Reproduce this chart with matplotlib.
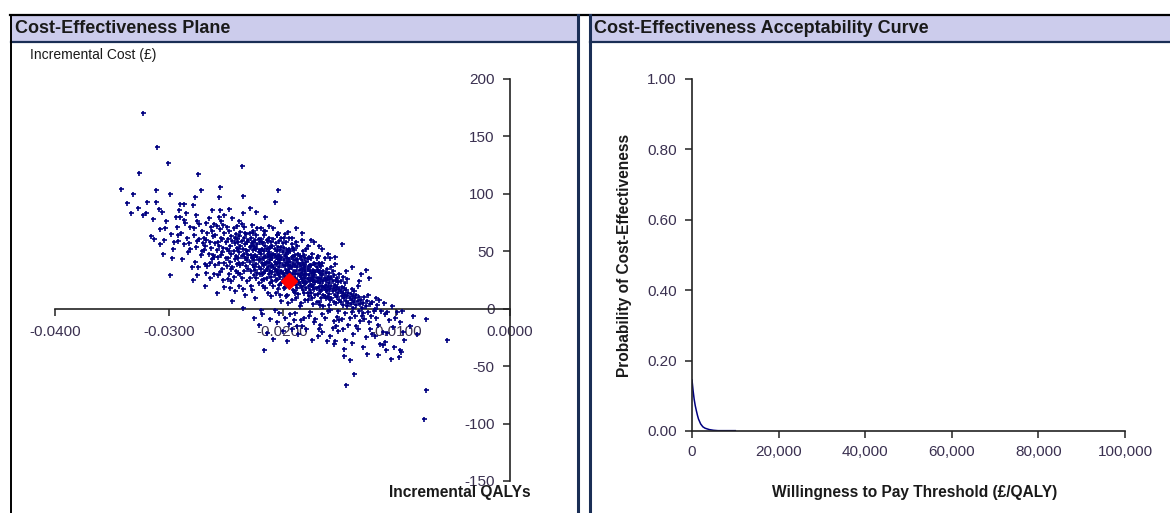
import numpy as np
import matplotlib
matplotlib.use("Agg")
import matplotlib.pyplot as plt
from matplotlib.lines import Line2D
from matplotlib.patches import Rectangle
from matplotlib.ticker import FuncFormatter

plt.rcParams['font.family'] = ['Liberation Sans', 'DejaVu Sans']
plt.rcParams['axes.unicode_minus'] = False

# PSA draws (QALYs in units of 1e-4)
incr_qaly_e4 = [
    -342, -337, -333, -331,
    -326, -323, -323, -327, -320,
    -319, -316, -313, -311, -311, -310, -314,
    -309, -308, -308, -306, -304, -303, -301, -305, -302,
    -299, -299, -298, -294, -292, -292, -291, -290, -290, -296, -293, -297, -295,
    -287, -287, -287, -286, -281, -280, -289, -284, -283, -288, -282, -285, -281,
    -279, -279, -277, -275, -275, -275, -274, -273, -272, -272,
    -278, -276, -271, -277, -273, -270, -278, -274, -276, -271,
    -268, -267, -267, -264, -262, -261, -260, -260, -269, -268, -266, -265, -264,
    -263, -262, -261, -269, -266, -263, -265, -267, -262, -260, -268, -264,
    -256, -256, -255, -255, -252, -251, -251, -259, -258, -257, -256, -255, -254,
    -253, -253, -252, -251, -250, -259, -258, -257, -256, -254, -253, -252, -259,
    -255, -254, -250, -257, -251, -258,
    -247, -244, -240, -249, -249, -248, -248, -247, -247, -246, -246, -245, -245,
    -245, -244, -244, -243, -243, -243, -242, -242, -242, -241, -241, -241, -240,
    -240, -249, -246, -244, -242, -248, -247, -245, -240,
    -238, -236, -235, -235, -235, -239, -239, -239, -238, -238, -238, -237, -237,
    -237, -236, -236, -236, -235, -235, -234, -234, -234, -234, -233, -233, -233,
    -232, -232, -232, -231, -231, -231, -230, -230, -230, -239, -237, -236, -233,
    -231, -238, -235, -232,
    -223, -229, -229, -229, -228, -228, -228, -227, -227, -227, -226, -226, -226,
    -225, -225, -225, -224, -224, -224, -224, -223, -223, -223, -222, -222, -222,
    -221, -221, -221, -220, -220, -220, -229, -228, -227, -226, -225, -223, -222,
    -221, -220, -226, -224, -228, -221,
    -216, -219, -219, -219, -219, -218, -218, -218, -217, -217, -217, -216, -216,
    -216, -215, -215, -215, -215, -214, -214, -214, -213, -213, -213, -212, -212,
    -212, -211, -211, -211, -210, -210, -210, -210, -219, -218, -217, -216, -215,
    -214, -213, -213, -212, -211, -210, -218, -216, -214, -212, -211, -217, -215,
    -207, -207, -204, -209, -209, -209, -208, -208, -208, -208, -207, -207, -207,
    -206, -206, -206, -206, -205, -205, -205, -205, -204, -204, -204, -203, -203,
    -203, -203, -202, -202, -202, -201, -201, -201, -201, -200, -200, -200, -209,
    -208, -207, -206, -205, -204, -204, -203, -202, -202, -201, -200, -200, -209,
    -207, -205, -203, -201, -206,
    -193, -190, -192, -199, -199, -199, -198, -198, -198, -197, -197, -197, -196,
    -196, -196, -195, -195, -195, -194, -194, -194, -194, -193, -193, -193, -192,
    -192, -192, -191, -191, -191, -190, -190, -190, -199, -198, -197, -196, -196,
    -195, -195, -194, -193, -192, -192, -191, -191, -190, -190, -199, -197, -195,
    -193, -198, -196, -194, -191, -197,
    -187, -183, -181, -189, -189, -189, -188, -188, -188, -187, -187, -187, -186,
    -186, -186, -185, -185, -185, -184, -184, -184, -183, -183, -183, -182, -182,
    -182, -181, -181, -181, -180, -180, -180, -189, -188, -187, -186, -185, -185,
    -184, -183, -183, -182, -181, -180, -180, -189, -187, -186, -184, -182, -188,
    -185, -183, -181, -180,
    -179, -179, -179, -178, -178, -178, -177, -177, -177, -176, -176, -176, -175,
    -175, -175, -174, -174, -174, -173, -173, -173, -172, -172, -172, -171, -171,
    -171, -170, -170, -170, -179, -178, -177, -176, -175, -174, -173, -172, -171,
    -170, -179, -177, -175, -173, -171, -178, -176, -174, -172, -170,
    -169, -168, -167, -161, -169, -169, -169, -168, -168, -168, -167, -167, -167,
    -166, -166, -166, -165, -165, -165, -164, -164, -164, -163, -163, -163, -162,
    -162, -162, -161, -161, -160, -160, -160, -169, -168, -167, -166, -165, -164,
    -163, -162, -161, -160, -166, -164, -167, -162, -168,
    -156, -154, -153, -159, -159, -159, -158, -158, -158, -157, -157, -157, -156,
    -156, -155, -155, -155, -154, -154, -154, -153, -153, -152, -152, -152, -151,
    -151, -150, -150, -150, -159, -157, -156, -155, -153, -152, -151, -150, -158,
    -148, -146, -146, -144, -141, -149, -149, -149, -148, -148, -147, -147, -147,
    -146, -146, -145, -145, -145, -144, -144, -143, -143, -143, -142, -142, -141,
    -141, -140, -140, -142, -147,
    -137, -131, -139, -139, -139, -138, -138, -137, -137, -136, -136, -135, -135,
    -135, -134, -134, -133, -133, -132, -132, -131, -130, -130, -138,
    -126, -124, -123, -121, -129, -129, -128, -128, -127, -126, -125, -125, -124,
    -123, -122, -121, -120, -127,
    -115, -114, -112, -111, -119, -118, -117, -116, -113, -118, -112, -110,
    -110, -109, -105, -102, -108, -106, -104, -103, -101,
    -99, -98, -97, -96, -95, -93, -97, -94,
    -74, -74, -76, -55, -88, -85, -82,
    -195, -192, -175, -168, -178, -205, -216, -226, -158, -139, -127, -133, -144,
    -225, -221, -218, -214, -211, -208, -205, -203, -200, -198, -196, -194,
    -189, -186, -184, -179, -177, -174, -172, -165, -163, -158, -155, -151,
    -148, -145, -139, -134, -129, -119, -116, -108,
    -215, -201, -188, -183, -172, -165, -160, -154, -229, -212,
]
incr_cost = [
    104, 92, 83, 100,
    118, 170, 82, 88, 83,
    93, 63, 61, 103, 93, 141, 78,
    87, 69, 56, 84, 60, 70, 127, 48, 76,
    100, 29, 65, 80, 64, 59, 86, 91, 80, 52, 71, 44, 58,
    91, 77, 56, 75, 71, 36, 66, 62, 49, 43, 57, 83, 52,
    90, 25, 97, 76, 29, 59, 117, 74, 103, 47,
    64, 54, 68, 41, 61, 57, 70, 36, 82, 50,
    39, 75, 31, 40, 86, 47, 74, 30, 62, 55, 66, 48, 58,
    71, 43, 63, 51, 37, 53, 79, 60, 68, 45, 20, 27,
    97, 80, 106, 86, 73, 82, 19, 64, 51, 58, 40, 69, 47,
    61, 35, 53, 66, 44, 38, 72, 29, 55, 62, 49, 25, 57,
    32, 76, 58, 45, 40, 14,
    87, 7, 72, 52, 37, 61, 44, 30, 68, 55, 41, 63, 24,
    48, 59, 36, 70, 50, 28, 57, 43, 15, 65, 46, 33, 53,
    39, 71, 18, 79, 62, 26, 50, 35, 61,
    76, 124, 98, 83, 1, 58, 44, 31, 63, 49, 20, 55, 38,
    67, 46, 59, 27, 52, 40, 62, 33, 48, 71, 56, 44, 12,
    51, 37, 65, 58, 42, 24, 47, 35, 60, 52, 30, 74, 66,
    50, 40, 17, 44,
    84, 54, 41, 27, 62, 47, 33, 57, 44, 16, 51, 38, 68,
    55, 42, 29, 60, 47, 34, 9, 52, 39, 64, 45, 31, 56,
    49, 36, 22, 58, 43, 30, 66, 20, 73, 45, 36, 27, 70,
    61, 51, 58, 53, 55, 42,
    -36, -1, 48, 35, 61, 52, 40, 25, 57, 44, 31, 50, 38,
    64, 46, 33, 55, 18, 52, 41, 27, 59, 45, 36, 49, 30,
    62, 42, 54, 22, 47, 37, 58, 11, 70, 30, 39, 26, 68,
    35, 48, 14, 40, 33, 28, 58, 44, 60, 53, 46, 20, 40,
    -1, 93, 103, 44, 32, 55, 48, 36, 20, 61, 41, 29, 52,
    45, 34, 57, 14, 39, 50, 26, 64, 43, 31, 54, 47, 36,
    21, 59, 40, 28, 51, 44, 33, 62, 7, 38, 49, 25, 24,
    70, 35, 25, 45, 17, 66, 30, 45, 12, 54, 31, 57, 38,
    47, 33, 42, 22, 40,
    -5, -10, -18, 42, 30, 53, 37, 46, 19, 40, 28, 58, 44,
    33, 12, 38, 49, 24, 35, 43, 29, 62, 41, 20, 50, 36,
    27, 45, 39, 16, 53, 33, 42, 24, 18, 65, 34, 51, 22,
    31, 5, 52, 31, 56, 8, 30, 46, 15, 51, 62, 48, 41,
    37, 28, 27, 20, 23, 11,
    -15, -15, -8, 38, 27, 47, 33, 21, 42, 36, 25, 55, 30,
    40, 13, 34, 22, 46, 28, 37, 5, 31, 42, 19, 35, 24,
    50, 29, 38, 14, 33, 22, 44, 14, 58, 43, 23, 29, 2,
    45, 26, 60, 16, 47, 27, 8, 30, 18, 48, 20, 40, 9,
    39, 35, 22, 36,
    30, 18, 41, 26, 35, 8, 29, 20, 45, 33, 24, -3, 27,
    38, 14, 31, 21, 48, 25, 34, 4, 29, 17, 40, 23, 32,
    -9, 27, 18, 36, 52, 14, 37, 16, 44, 9, 19, 33, 12,
    44, 23, 11, 21, 28, 39, 43, 38, 26, 23, 6,
    -24, -18, -14, -28, 24, 13, 34, 27, 19, 40, 22, 31, 3,
    26, 16, 37, 20, 29, -5, 24, 12, 33, 18, 27, 44, 21,
    9, 31, 15, 25, 19, 28, -2, 46, 6, 38, 9, 40, 2,
    11, 25, 35, 10, 30, 19, 15, 16, 33,
    -17, -28, -15, 22, 13, 31, 17, 26, -1, 20, 9, 36, 15,
    24, 18, 6, 29, 12, 21, 39, 16, 25, 10, 19, -7, 14,
    23, 8, 17, 30, 3, 28, 33, -11, 5, 27, -2, -10, 8,
    56, -35, -41, -66, -45, 15, 6, 24, 11, 19, 3, 14, 28,
    9, 18, 12, -4, 22, 7, 16, 2, 11, 26, 5, 14, 9,
    -8, 4, 13, -14, -18,
    -57, 30, 8, -3, 17, 11, 1, 6, 15, -6, 9, 3, 12,
    -15, 7, 20, -2, 10, 4, -11, 8, 1, -6, -22,
    -39, 27, -18, -22, 5, -4, 10, -9, 2, 7, -3, 12, -12,
    4, -6, 6, -2, -25,
    8, -31, -32, 5, 0, -8, 3, -14, -2, 9, -20, -5,
    -29, -36, -44, -33, -3, -10, 2, -16, -8,
    -3, -42, -36, -38, -2, -27, -12, -20,
    -9, -71, -96, -27, -15, -6, -22,
    67, 62, 60, 55, 55, 64, 68, 66, 44, 36, 34, 24, 33,
    -8, -14, -5, -21, -9, -26, -12, -4, -19, -8, -28, -13,
    -4, -22, -10, -18, -6, -27, -12, -20, -8, -24, -31, -19,
    -9, -27, -30, -18, -33, -24, -40, -21,
    80, 76, 70, 66, 58, 52, 48, 45, 88, 72,
]

# mean of the PSA draws (red diamond)
mean_qaly = -0.0194
mean_cost = 24.4

# cost-effectiveness acceptability curve
wtp = [0, 250, 500, 750, 1000, 1250, 1500, 2000, 2500, 3000, 4000, 5000,
       6000, 7000, 8000, 9000, 10000]
prob_ce = [0.145, 0.115, 0.090, 0.072, 0.058, 0.045, 0.034, 0.020, 0.012,
           0.008, 0.004, 0.002, 0.001, 0.001, 0.001, 0.001, 0.001]

qaly = np.array(incr_qaly_e4) * 1e-4
cost = np.array(incr_cost)

W, H = 1170, 513
fig = plt.figure(figsize=(W / 100, H / 100), dpi=100)
fig.patch.set_facecolor('white')

def px_box(x0, y0, x1, y1):
    # pixel box (top-left origin) -> figure fraction rect
    return [x0 / W, 1 - y1 / H, (x1 - x0) / W, (y1 - y0) / H]

def hline(y, x0, x1, color, lw):
    fig.add_artist(Line2D([x0 / W, x1 / W], [1 - y / H, 1 - y / H],
                          transform=fig.transFigure, color=color, lw=lw))

def vline(x, y0, y1, color, lw):
    fig.add_artist(Line2D([x / W, x / W], [1 - y0 / H, 1 - y1 / H],
                          transform=fig.transFigure, color=color, lw=lw))

lavender = '#CCCCEC'
border = '#1A2E55'
text_col = '#1a1a1a'
tick_col = '#3a3050'

# panel frames and title bars
for x0, x1 in [(11, 578), (590, 1170)]:
    fig.add_artist(Rectangle((x0 / W, 1 - 41 / H), (x1 - x0) / W, 25 / H,
                             transform=fig.transFigure, facecolor=lavender,
                             edgecolor='none'))
    hline(41.5, x0, x1, border, 1.6)
hline(15, 10, 1170, 'black', 1.6)
vline(10.5, 15, 513, 'black', 1.4)
vline(578, 15, 513, border, 2.2)
vline(589.5, 15, 513, border, 2.2)

fig.text(15 / W, 1 - 28.5 / H, 'Cost-Effectiveness Plane', fontsize=13,
         fontweight='bold', color=text_col, va='center', ha='left')
fig.text(594 / W, 1 - 28.5 / H, 'Cost-Effectiveness Acceptability Curve',
         fontsize=13, fontweight='bold', color=text_col, va='center', ha='left')

# ---- cost-effectiveness plane ----
ax1 = fig.add_axes(px_box(55, 79, 510, 481))
ax1.patch.set_alpha(0)
ax1.plot(qaly, cost, '+', color='#000080', ms=3.6, mew=1.2, zorder=3)
ax1.plot([mean_qaly], [mean_cost], 'D', color='#FF0000', ms=8.5, zorder=4)
ax1.set_xlim(-0.04, 0.0)
ax1.set_ylim(-150, 200)
ax1.spines['left'].set_position(('data', 0))
ax1.spines['bottom'].set_position(('data', 0))
ax1.spines['top'].set_visible(False)
ax1.spines['right'].set_visible(False)
for sp in ('left', 'bottom'):
    ax1.spines[sp].set_color('#222222')
    ax1.spines[sp].set_linewidth(1.2)
ax1.set_xticks([-0.04, -0.03, -0.02, -0.01, 0.0])
ax1.set_yticks(np.arange(-150, 201, 50))
ax1.xaxis.set_major_formatter(FuncFormatter(lambda v, p: f'{v:.4f}'))
ax1.tick_params(axis='both', direction='out', length=5, width=1.1,
                colors='#222222', labelcolor=tick_col, labelsize=11)
ax1.tick_params(axis='x', pad=7)
ax1.tick_params(axis='y', pad=6)
fig.text(30 / W, 1 - 55 / H, 'Incremental Cost (£)', fontsize=10,
         color=text_col, va='center', ha='left')
fig.text(460 / W, 1 - 492 / H, 'Incremental QALYs', fontsize=11.2,
         fontweight='bold', color=text_col, va='center', ha='center')

# ---- CEAC ----
ax2 = fig.add_axes(px_box(692, 79, 1125, 431))
ax2.patch.set_alpha(0)
ax2.plot(wtp, prob_ce, color='#000080', lw=1.1)
ax2.set_xlim(0, 100000)
ax2.set_ylim(0, 1)
ax2.spines['top'].set_visible(False)
ax2.spines['right'].set_visible(False)
for sp in ('left', 'bottom'):
    ax2.spines[sp].set_color('#222222')
    ax2.spines[sp].set_linewidth(1.2)
ax2.set_xticks(np.arange(0, 100001, 20000))
ax2.set_yticks(np.arange(0, 1.01, 0.2))
ax2.xaxis.set_major_formatter(FuncFormatter(lambda v, p: f'{v:,.0f}'))
ax2.yaxis.set_major_formatter(FuncFormatter(lambda v, p: f'{v:.2f}'))
ax2.tick_params(axis='both', direction='out', length=5, width=1.1,
                colors='#222222', labelcolor=tick_col, labelsize=11)
ax2.tick_params(axis='x', pad=5)
ax2.tick_params(axis='y', pad=6)
fig.text(624 / W, 1 - 255 / H, 'Probability of Cost-Effectiveness',
         fontsize=11.2, fontweight='bold', color=text_col, rotation=90,
         va='center', ha='center')
fig.text(915 / W, 1 - 492 / H, 'Willingness to Pay Threshold (£/QALY)',
         fontsize=11.2, fontweight='bold', color=text_col, va='center',
         ha='center')

fig.savefig('out.png', dpi=100)
